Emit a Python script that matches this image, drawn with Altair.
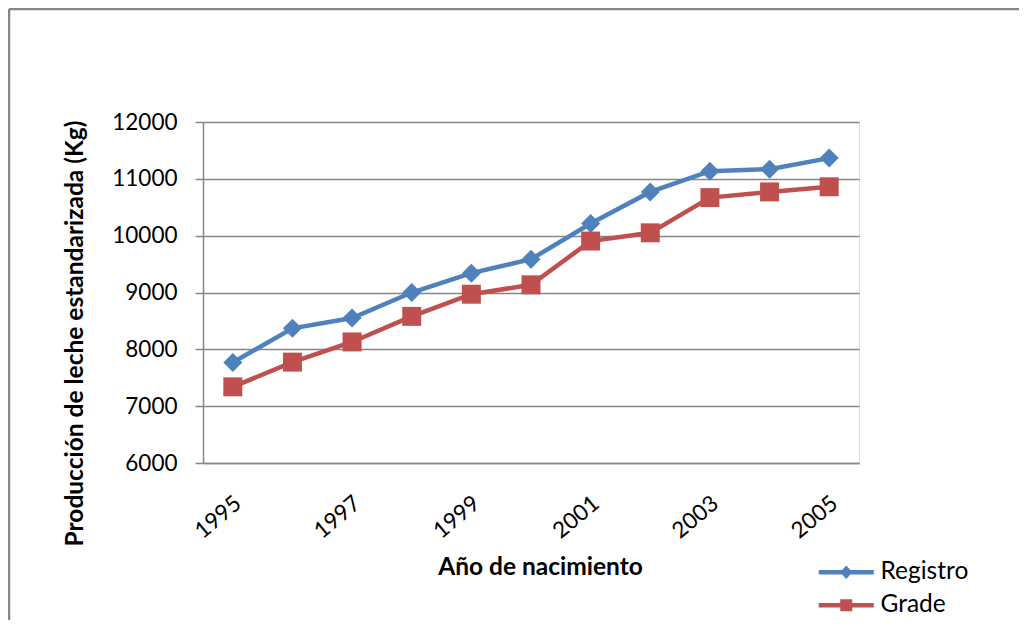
import altair as alt
import pandas as pd

# ---- data ----
years = ["1995", "1996", "1997", "1998", "1999", "2000",
         "2001", "2002", "2003", "2004", "2005"]
registro = [7770, 8370, 8550, 9000, 9340, 9585, 10215, 10770, 11135, 11170, 11365]
grade = [7340, 7775, 8130, 8580, 8970, 9135, 9905, 10050, 10670, 10770, 10860]
series = ["Registro", "Grade"]
colors = ["#4F81BD", "#C0504D"]
markers = ["diamond", "square"]
legend_symbols = [
    "M-2.75,-0.22L2.75,-0.22L2.75,0.22L-2.75,0.22Z M0,-0.68L0.62,0L0,0.68L-0.62,0Z",
    "M-2.75,-0.22L2.75,-0.22L2.75,0.22L-2.75,0.22Z M-0.6,-0.6L0.6,-0.6L0.6,0.6L-0.6,0.6Z",
]
x_labels = ["1995", "1997", "1999", "2001", "2003", "2005"]
y_ticks = [6000, 7000, 8000, 9000, 10000, 11000, 12000]

rows = []
for name, vals in zip(series, [registro, grade]):
    for yr, v in zip(years, vals):
        rows.append({"year": yr, "valor": v, "serie": name})
df = pd.DataFrame(rows)

FONT = "Lato"
GRID = "#868686"

x_enc = alt.X(
    "year:N", sort=years,
    scale=alt.Scale(type="point", padding=0.5),
    axis=alt.Axis(
        values=x_labels, title="Año de nacimiento",
        labelAngle=320, labelAlign="right", labelBaseline="middle",
        labelPadding=37, labelOffset=5, labelFont=FONT, labelFontSize=22.5,
        labelColor="black", ticks=False, grid=False,
        domainColor=GRID, domainWidth=1.5,
        titleFont=FONT, titleFontSize=24.5, titleFontWeight="bold", titleColor="black",
        titleX=337, titleY=104, titleAlign="center", titleBaseline="middle",
    ),
)
y_enc = alt.Y(
    "valor:Q",
    scale=alt.Scale(domain=[6000, 12000], nice=False, zero=False),
    axis=alt.Axis(
        values=y_ticks, format="d", title="Producción de leche estandarizada (Kg)",
        tickSize=8, tickColor=GRID, tickWidth=1.5,
        domainColor=GRID, domainWidth=1.5,
        grid=True, gridColor=GRID, gridWidth=1.5,
        labelPadding=18, labelFont=FONT, labelFontSize=22.5, labelColor="black",
        titleFont=FONT, titleFontSize=24.5, titleFontWeight="bold", titleColor="black",
        titleAngle=270, titleX=-128, titleY=211, titleAlign="center", titleBaseline="middle",
    ),
)

color_nolegend = alt.Color("serie:N", scale=alt.Scale(domain=series, range=colors), legend=None)

base = alt.Chart(df)
lines = base.mark_line(strokeWidth=4.5, opacity=1).encode(
    x=x_enc, y=y_enc, color=color_nolegend, detail="serie:N"
)
points = base.mark_point(filled=True, opacity=1, size=360).encode(
    x=x_enc, y=y_enc, color=color_nolegend,
    shape=alt.Shape("serie:N", scale=alt.Scale(domain=series, range=markers), legend=None),
)

legend_props = dict(
    orient="none", legendX=631, legendY=438, padding=0, rowPadding=8,
    labelFont=FONT, labelFontSize=24.5, labelColor="black", labelOffset=22,
    symbolSize=400, symbolStrokeWidth=0,
)
legend_layer = base.transform_filter("false").mark_point(filled=True, opacity=1).encode(
    x=alt.X("year:N", sort=years), y=alt.Y("valor:Q"),
    color=alt.Color("serie:N", scale=alt.Scale(domain=series, range=colors),
                    title=None, legend=alt.Legend(**legend_props)),
    shape=alt.Shape("serie:N", scale=alt.Scale(domain=series, range=legend_symbols),
                    title=None, legend=alt.Legend(**legend_props)),
)

one = alt.Data(values=[{"k": 1}])
frame_left = alt.Chart(one).mark_rule(color=GRID, strokeWidth=2.5, clip=False).encode(
    x=alt.value(-194), y=alt.value(-113), y2=alt.value(600)
)
frame_top = alt.Chart(one).mark_rule(color=GRID, strokeWidth=2.5, clip=False).encode(
    x=alt.value(-194), x2=alt.value(900), y=alt.value(-113)
)

chart = alt.layer(lines, points, legend_layer, frame_left, frame_top).resolve_scale(
    color="independent", shape="independent"
).properties(
    width=656, height=341,
    autosize=alt.AutoSizeParams(type="none"),
    padding={"left": 195, "top": 114, "right": 160, "bottom": 157},
).configure_view(strokeWidth=0).configure(background="white")

chart.save("out.html", embed_options={"renderer": "svg", "actions": False})
